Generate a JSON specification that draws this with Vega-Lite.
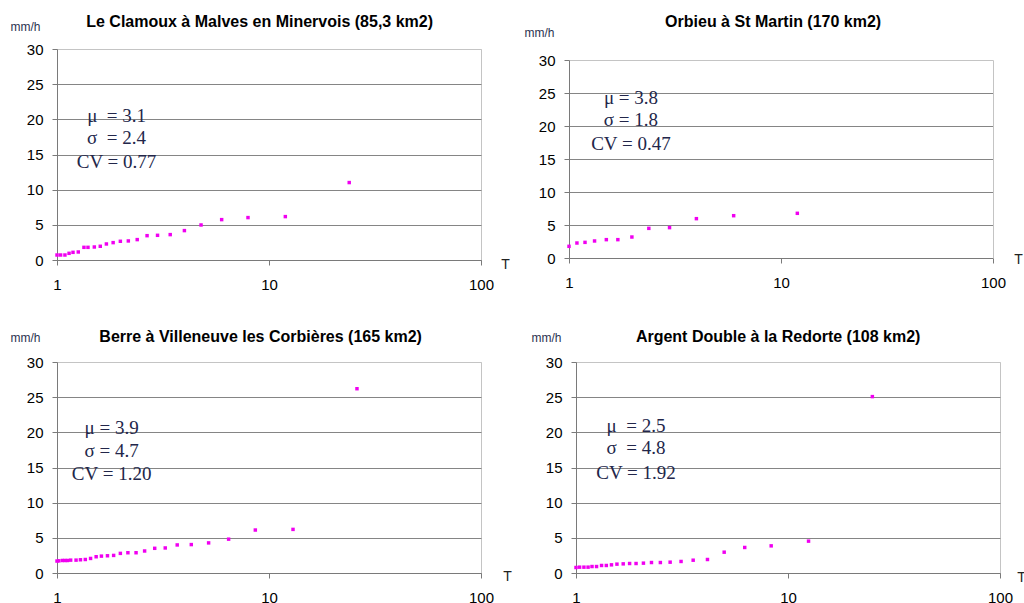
{
  "$schema": "https://vega.github.io/schema/vega-lite/v6.json",
  "padding": {"left": 9, "top": 13, "right": 0, "bottom": 0},
  "background": "white",
  "config": {
    "view": {"stroke": "#c4c4c4", "strokeWidth": 1},
    "font": "Liberation Sans",
    "title": {"fontSize": 16, "fontWeight": "bold", "color": "#000000", "font": "Liberation Sans", "anchor": "middle", "frame": "bounds"},
    "axis": {"labelFont": "Liberation Sans", "labelFontSize": 15, "labelColor": "#000000", "domainColor": "#7a7a7a", "tickColor": "#7a7a7a", "tickSize": 5, "titleFont": "Liberation Sans", "titleFontWeight": "normal", "labelFlush": false, "labelOverlap": false}
  },
  "datasets": {
    "pts": [
      {"panel": 1, "T": 1.0, "v": 0.71}, {"panel": 1, "T": 1.04, "v": 0.71}, {"panel": 1, "T": 1.09, "v": 0.71}, {"panel": 1, "T": 1.14, "v": 0.95},
      {"panel": 1, "T": 1.19, "v": 1.09}, {"panel": 1, "T": 1.26, "v": 1.14}, {"panel": 1, "T": 1.34, "v": 1.8}, {"panel": 1, "T": 1.4, "v": 1.8},
      {"panel": 1, "T": 1.5, "v": 1.85}, {"panel": 1, "T": 1.6, "v": 1.95}, {"panel": 1, "T": 1.71, "v": 2.28}, {"panel": 1, "T": 1.84, "v": 2.47},
      {"panel": 1, "T": 1.99, "v": 2.66}, {"panel": 1, "T": 2.17, "v": 2.71}, {"panel": 1, "T": 2.39, "v": 2.9}, {"panel": 1, "T": 2.66, "v": 3.46},
      {"panel": 1, "T": 2.98, "v": 3.51}, {"panel": 1, "T": 3.42, "v": 3.61}, {"panel": 1, "T": 3.99, "v": 4.18}, {"panel": 1, "T": 4.78, "v": 4.98},
      {"panel": 1, "T": 5.98, "v": 5.74}, {"panel": 1, "T": 7.96, "v": 6.03}, {"panel": 1, "T": 11.94, "v": 6.17}, {"panel": 1, "T": 23.9, "v": 11.01},
      {"panel": 2, "T": 1.0, "v": 1.77}, {"panel": 2, "T": 1.09, "v": 2.27}, {"panel": 2, "T": 1.19, "v": 2.37}, {"panel": 2, "T": 1.32, "v": 2.58},
      {"panel": 2, "T": 1.5, "v": 2.78}, {"panel": 2, "T": 1.7, "v": 2.78}, {"panel": 2, "T": 1.98, "v": 3.18}, {"panel": 2, "T": 2.38, "v": 4.49},
      {"panel": 2, "T": 2.98, "v": 4.6}, {"panel": 2, "T": 3.99, "v": 5.96}, {"panel": 2, "T": 5.98, "v": 6.41}, {"panel": 2, "T": 11.94, "v": 6.77},
      {"panel": 3, "T": 1.0, "v": 1.7}, {"panel": 3, "T": 1.02, "v": 1.73}, {"panel": 3, "T": 1.06, "v": 1.78}, {"panel": 3, "T": 1.09, "v": 1.78},
      {"panel": 3, "T": 1.12, "v": 1.78}, {"panel": 3, "T": 1.16, "v": 1.83}, {"panel": 3, "T": 1.23, "v": 1.83}, {"panel": 3, "T": 1.29, "v": 1.88},
      {"panel": 3, "T": 1.36, "v": 1.92}, {"panel": 3, "T": 1.44, "v": 2.07}, {"panel": 3, "T": 1.53, "v": 2.31}, {"panel": 3, "T": 1.62, "v": 2.4},
      {"panel": 3, "T": 1.73, "v": 2.45}, {"panel": 3, "T": 1.85, "v": 2.5}, {"panel": 3, "T": 1.99, "v": 2.79}, {"panel": 3, "T": 2.16, "v": 2.88},
      {"panel": 3, "T": 2.36, "v": 2.88}, {"panel": 3, "T": 2.59, "v": 3.13}, {"panel": 3, "T": 2.89, "v": 3.51}, {"panel": 3, "T": 3.24, "v": 3.56},
      {"panel": 3, "T": 3.69, "v": 3.99}, {"panel": 3, "T": 4.3, "v": 4.04}, {"panel": 3, "T": 5.19, "v": 4.28}, {"panel": 3, "T": 6.45, "v": 4.81},
      {"panel": 3, "T": 8.62, "v": 6.11}, {"panel": 3, "T": 12.98, "v": 6.2}, {"panel": 3, "T": 26.0, "v": 26.2},
      {"panel": 4, "T": 1.0, "v": 0.78}, {"panel": 4, "T": 1.04, "v": 0.83}, {"panel": 4, "T": 1.09, "v": 0.83}, {"panel": 4, "T": 1.14, "v": 0.83},
      {"panel": 4, "T": 1.19, "v": 0.92}, {"panel": 4, "T": 1.25, "v": 0.92}, {"panel": 4, "T": 1.32, "v": 1.07}, {"panel": 4, "T": 1.39, "v": 1.07},
      {"panel": 4, "T": 1.47, "v": 1.16}, {"panel": 4, "T": 1.56, "v": 1.26}, {"panel": 4, "T": 1.67, "v": 1.3}, {"panel": 4, "T": 1.79, "v": 1.35},
      {"panel": 4, "T": 1.92, "v": 1.35}, {"panel": 4, "T": 2.08, "v": 1.4}, {"panel": 4, "T": 2.27, "v": 1.49}, {"panel": 4, "T": 2.5, "v": 1.49},
      {"panel": 4, "T": 2.78, "v": 1.54}, {"panel": 4, "T": 3.13, "v": 1.64}, {"panel": 4, "T": 3.57, "v": 1.82}, {"panel": 4, "T": 4.17, "v": 1.92},
      {"panel": 4, "T": 5.0, "v": 2.96}, {"panel": 4, "T": 6.25, "v": 3.63}, {"panel": 4, "T": 8.33, "v": 3.86}, {"panel": 4, "T": 12.5, "v": 4.53},
      {"panel": 4, "T": 25.0, "v": 25.08}
    ],
    "notes": [
      {"panel": 1, "T": 1.91, "v": 20.5, "label": "μ\u00a0 = 3.1"},
      {"panel": 1, "T": 1.91, "v": 17.4, "label": "σ\u00a0 = 2.4"},
      {"panel": 1, "T": 1.91, "v": 14.0, "label": "CV = 0.77"},
      {"panel": 2, "T": 1.96, "v": 24.3, "label": "μ = 3.8"},
      {"panel": 2, "T": 1.96, "v": 20.95, "label": "σ = 1.8"},
      {"panel": 2, "T": 1.96, "v": 17.3, "label": "CV = 0.47"},
      {"panel": 3, "T": 1.81, "v": 20.6, "label": "μ = 3.9"},
      {"panel": 3, "T": 1.81, "v": 17.4, "label": "σ = 4.7"},
      {"panel": 3, "T": 1.81, "v": 14.1, "label": "CV = 1.20"},
      {"panel": 4, "T": 1.92, "v": 20.9, "label": "μ\u00a0 = 2.5"},
      {"panel": 4, "T": 1.92, "v": 17.8, "label": "σ\u00a0 = 4.8"},
      {"panel": 4, "T": 1.92, "v": 14.25, "label": "CV = 1.92"}
    ]
  },
  "spacing": 35,
  "vconcat": [
    {
      "spacing": 14,
      "hconcat": [
        {
          "width": 424, "height": 211,
          "title": {"text": "Le Clamoux à Malves en Minervois (85,3 km2)", "offset": -10},
          "encoding": {
            "x": {"field": "T", "type": "quantitative", "scale": {"type": "log", "domain": [1, 100]},
                  "axis": {"values": [1, 10, 100], "format": "d", "title": "T", "titleX": 448, "titleY": 4, "titleAlign": "center", "titleBaseline": "middle", "titleFontSize": 14, "titleColor": "#222222", "labelPadding": 12, "grid": false}},
            "y": {"field": "v", "type": "quantitative", "scale": {"domain": [0, 30], "nice": false},
                  "axis": {"values": [0, 5, 10, 15, 20, 25, 30], "title": "mm/h", "titleAngle": 0, "titleX": -47, "titleY": -23, "titleAlign": "left", "titleBaseline": "middle", "titleFontSize": 12, "titleColor": "#2b3350", "labelPadding": 9, "grid": true, "gridColor": {"condition": {"test": "datum.value >= 30", "value": "#c4c4c4"}, "value": "#858585"}}}
          },
          "layer": [
            {"data": {"name": "pts"}, "transform": [{"filter": "datum.panel === 1"}],
             "mark": {"type": "square", "size": 12, "color": "#f000f0", "opacity": 1}},
            {"data": {"name": "notes"}, "transform": [{"filter": "datum.panel === 1"}],
             "mark": {"type": "text", "font": "Liberation Serif", "fontSize": 19, "color": "#22264a", "align": "center", "baseline": "middle"},
             "encoding": {"text": {"field": "label"}}}
          ]
        },
        {
          "width": 424, "height": 209,
          "view": {"stroke": null},
          "title": {"text": "Orbieu à St Martin (170 km2)", "offset": -4},
          "encoding": {
            "x": {"field": "T", "type": "quantitative", "scale": {"type": "log", "domain": [1, 100]},
                  "axis": {"values": [1, 10, 100], "format": "d", "title": "T", "titleX": 449, "titleY": 1, "titleAlign": "center", "titleBaseline": "middle", "titleFontSize": 14, "titleColor": "#222222", "labelPadding": 12, "grid": false}},
            "y": {"field": "v", "type": "quantitative", "scale": {"domain": [0, 30], "nice": false, "range": [209, 11]},
                  "axis": {"values": [0, 5, 10, 15, 20, 25, 30], "title": "mm/h", "titleAngle": 0, "titleX": -45, "titleY": -17, "titleAlign": "left", "titleBaseline": "middle", "titleFontSize": 12, "titleColor": "#2b3350", "labelPadding": 9, "grid": true, "gridColor": {"condition": {"test": "datum.value >= 30", "value": "#c4c4c4"}, "value": "#858585"}}}
          },
          "resolve": {"axis": {"y": "independent"}},
          "layer": [
            {"data": {"name": "pts"}, "transform": [{"filter": "datum.panel === 2"}],
             "mark": {"type": "square", "size": 12, "color": "#f000f0", "opacity": 1}},
            {"data": {"name": "notes"}, "transform": [{"filter": "datum.panel === 2"}],
             "mark": {"type": "text", "font": "Liberation Serif", "fontSize": 19, "color": "#22264a", "align": "center", "baseline": "middle"},
             "encoding": {
               "text": {"field": "label"},
               "y": {"field": "v", "type": "quantitative", "axis": {"orient": "right", "labels": false, "ticks": false, "grid": false, "title": null, "domainColor": "#c4c4c4"}}
             }}
          ]
        }
      ]
    },
    {
      "spacing": 18,
      "hconcat": [
        {
          "width": 424, "height": 211,
          "title": {"text": "Berre à Villeneuve les Corbières (165 km2)", "offset": -14},
          "encoding": {
            "x": {"field": "T", "type": "quantitative", "scale": {"type": "log", "domain": [1, 100]},
                  "axis": {"values": [1, 10, 100], "format": "d", "title": "T", "titleX": 450, "titleY": 3, "titleAlign": "center", "titleBaseline": "middle", "titleFontSize": 14, "titleColor": "#222222", "labelPadding": 12, "grid": false}},
            "y": {"field": "v", "type": "quantitative", "scale": {"domain": [0, 30], "nice": false},
                  "axis": {"values": [0, 5, 10, 15, 20, 25, 30], "title": "mm/h", "titleAngle": 0, "titleX": -47, "titleY": -25, "titleAlign": "left", "titleBaseline": "middle", "titleFontSize": 12, "titleColor": "#2b3350", "labelPadding": 9, "grid": true, "gridColor": {"condition": {"test": "datum.value >= 30", "value": "#c4c4c4"}, "value": "#858585"}}}
          },
          "layer": [
            {"data": {"name": "pts"}, "transform": [{"filter": "datum.panel === 3"}],
             "mark": {"type": "square", "size": 12, "color": "#f000f0", "opacity": 1}},
            {"data": {"name": "notes"}, "transform": [{"filter": "datum.panel === 3"}],
             "mark": {"type": "text", "font": "Liberation Serif", "fontSize": 19, "color": "#22264a", "align": "center", "baseline": "middle"},
             "encoding": {"text": {"field": "label"}}}
          ]
        },
        {
          "width": 424, "height": 211,
          "title": {"text": "Argent Double à la Redorte (108 km2)", "offset": -14},
          "encoding": {
            "x": {"field": "T", "type": "quantitative", "scale": {"type": "log", "domain": [1, 100]},
                  "axis": {"values": [1, 10, 100], "format": "d", "title": "T", "titleX": 445, "titleY": 4, "titleAlign": "center", "titleBaseline": "middle", "titleFontSize": 14, "titleColor": "#222222", "labelPadding": 12, "grid": false}},
            "y": {"field": "v", "type": "quantitative", "scale": {"domain": [0, 30], "nice": false},
                  "axis": {"values": [0, 5, 10, 15, 20, 25, 30], "title": "mm/h", "titleAngle": 0, "titleX": -45, "titleY": -25, "titleAlign": "left", "titleBaseline": "middle", "titleFontSize": 12, "titleColor": "#2b3350", "labelPadding": 9, "grid": true, "gridColor": {"condition": {"test": "datum.value >= 30", "value": "#c4c4c4"}, "value": "#858585"}}}
          },
          "layer": [
            {"data": {"name": "pts"}, "transform": [{"filter": "datum.panel === 4"}],
             "mark": {"type": "square", "size": 12, "color": "#f000f0", "opacity": 1}},
            {"data": {"name": "notes"}, "transform": [{"filter": "datum.panel === 4"}],
             "mark": {"type": "text", "font": "Liberation Serif", "fontSize": 19, "color": "#22264a", "align": "center", "baseline": "middle"},
             "encoding": {"text": {"field": "label"}}}
          ]
        }
      ]
    }
  ]
}
